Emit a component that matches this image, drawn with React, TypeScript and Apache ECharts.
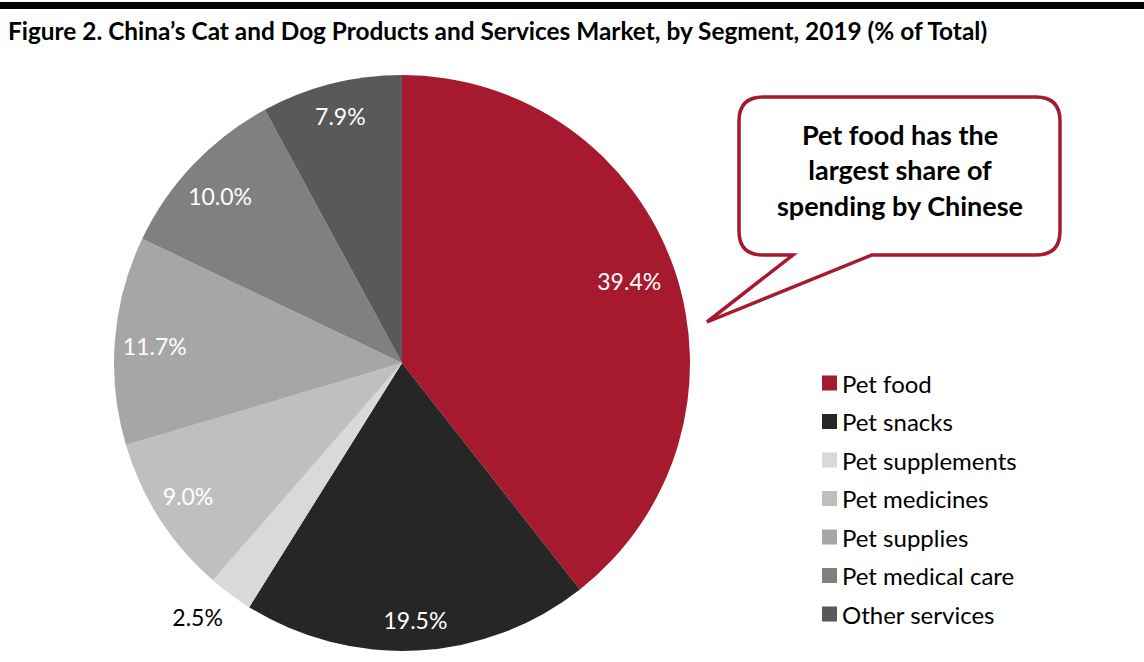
import React, { useEffect, useRef } from "react";
import * as echarts from "echarts";

const categories = [
  "Pet food",
  "Pet snacks",
  "Pet supplements",
  "Pet medicines",
  "Pet supplies",
  "Pet medical care",
  "Other services",
];
const shares = [39.4, 19.5, 2.5, 9.0, 11.7, 10.0, 7.9];
const colors = ["#A6192E", "#262626", "#D9D9D9", "#BFBFBF", "#A6A6A6", "#808080", "#595959"];
const labelColors = ["#FFFFFF", "#FFFFFF", "#000000", "#FFFFFF", "#FFFFFF", "#FFFFFF", "#FFFFFF"];
const labelNudges = [[-10, 0], [0, 6], [-55, 52], [-3, -3], [3, 3], [0, 6], [0, -4]];
const titleText = "Figure 2. China\u2019s Cat and Dog Products and Services Market, by Segment, 2019 (% of Total)";
const calloutLines = ["Pet food has the", "largest share of", "spending by Chinese"];

const FONT = "Lato";

const bubblePath =
  "M763 97 H1036 Q1060 97 1060 121 V231 Q1060 255 1036 255 H872 L707 322 L793 255 H763 Q739 255 739 231 V121 Q739 97 763 97 Z";
echarts.graphic.registerShape("bubble", echarts.graphic.extendPath(bubblePath, {}));

export default function App() {
  const ref = useRef<HTMLDivElement>(null);
  useEffect(() => {
    if (!ref.current) return;
    const chart = echarts.init(ref.current, undefined, { renderer: "svg" });
    const pieData = categories.map((name, i) => ({
      name,
      value: shares[i],
      itemStyle: { color: colors[i] },
    }));
    const labelData = categories.map((name, i) => ({
      name,
      value: shares[i],
      itemStyle: { color: "rgba(0,0,0,0)" },
      label: {
        color: labelColors[i],
        offset: labelNudges[i],
      },
    }));
    chart.setOption({
      animation: false,
      textStyle: { fontFamily: FONT },
      legend: {
        orient: "vertical",
        left: 822,
        top: 370,
        padding: 0,
        icon: "rect",
        itemWidth: 15,
        itemHeight: 15,
        itemGap: 12.5,
        selectedMode: false,
        data: categories,
        textStyle: { fontFamily: FONT, fontSize: 24, lineHeight: 26, color: "#000" },
      },
      series: [
        {
          type: "pie",
          center: [402, 363],
          radius: [0, 288],
          startAngle: 90,
          clockwise: true,
          silent: true,
          label: { show: false },
          labelLine: { show: false },
          itemStyle: { borderWidth: 0 },
          data: pieData,
        },
        {
          type: "pie",
          center: [402, 363],
          radius: [198, 298],
          startAngle: 90,
          clockwise: true,
          silent: true,
          legendHoverLink: false,
          label: {
            show: true,
            position: "inside",
            fontFamily: FONT,
            fontSize: 23,
            formatter: (p: any) => `${Number(p.value).toFixed(1)}%`,
          },
          labelLine: { show: false },
          data: labelData,
        },
      ],
      graphic: [
        { type: "rect", shape: { x: 0, y: 2, width: 1144, height: 7 }, style: { fill: "#000" } },
        {
          type: "text",
          x: 8,
          y: 30,
          style: {
            text: titleText,
            fontFamily: FONT,
            fontWeight: "bold",
            fontSize: 24.4,
            fill: "#000",
            textVerticalAlign: "middle",
            textAlign: "left",
          },
        },
        {
          type: "bubble",
          x: 0,
          y: 0,
          style: { fill: "#FFFFFF", stroke: "#A6192E", lineWidth: 3.5, lineJoin: "miter" },
        },
        ...calloutLines.map((t, i) => ({
          type: "text",
          x: 900,
          y: 134 + i * 35.5,
          style: {
            text: t,
            fontFamily: FONT,
            fontWeight: "bold",
            fontSize: 27,
            fill: "#000",
            textAlign: "center",
            textVerticalAlign: "middle",
          },
        })),
      ],
    });
    return () => chart.dispose();
  }, []);
  return (
    <div
      ref={ref}
      style={{ position: "fixed", left: 0, top: 0, width: 1144, height: 662, background: "#fff" }}
    />
  );
}
